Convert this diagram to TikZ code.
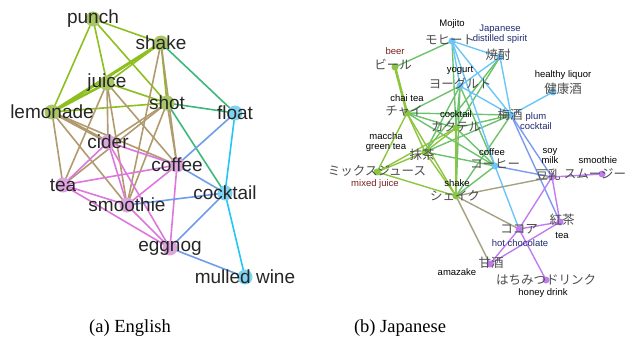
\documentclass[tikz,border=0pt]{standalone}
\usepackage{fontspec}
\setmainfont{Liberation Sans}
\newfontfamily\capfont{Liberation Serif}
\newfontfamily\jafont{Noto Sans CJK JP}
\usetikzlibrary{backgrounds}
\definecolor{egreen}{HTML}{8DBF1E}
\definecolor{eteal}{HTML}{3DB87A}
\definecolor{etan}{HTML}{B09A6E}
\definecolor{epink}{HTML}{DD77DD}
\definecolor{eblue}{HTML}{6F9DEB}
\definecolor{ecyan}{HTML}{22C6F4}
\definecolor{ngreen}{HTML}{A9C566}
\definecolor{npink}{HTML}{DDA5DD}
\definecolor{nblue}{HTML}{7FD3F0}
\definecolor{jgreen}{HTML}{6DC26D}
\definecolor{jlime}{HTML}{8CC63F}
\definecolor{jsky}{HTML}{6CC5F8}
\definecolor{jblue}{HTML}{7C9BF0}
\definecolor{jviolet}{HTML}{C07DF0}
\definecolor{jolive}{HTML}{A5A283}
\definecolor{jred}{HTML}{7A1E1E}
\definecolor{jnavy}{HTML}{1E2A6E}
\tikzset{
  edot/.style={circle, fill=#1, minimum size=15pt, inner sep=0},
  jdot/.style={circle, fill=#1, minimum size=7pt, inner sep=0},
  elabel/.style={font=\fontsize{19}{19}\selectfont, text=black!85, inner sep=0},
  jen/.style={font=\fontsize{9.5}{10}\selectfont, inner sep=0},
  jja/.style={font=\jafont\fontsize{12.5}{13}\selectfont, text=black!70, inner sep=0},
  eedge/.style={line width=1.6pt, draw=#1},
  jedge/.style={line width=1.4pt, draw=#1},
}
\begin{document}
\begin{tikzpicture}[x=1pt,y=-1pt]
  \useasboundingbox (0,0) rectangle (628,345);
  % English graph
  \foreach \n/\x/\y/\c in {punch/93/19/ngreen, shake/161/43/ngreen, juice/107/83/ngreen,
      lemonade/52/112/ngreen, shot/167/103/ngreen, float/235/113/nblue,
      cider/108/142/npink, coffee/177/165/npink, tea/63/185/npink,
      cocktail/225/193/nblue, smoothie/127/205/npink, eggnog/170/248/npink,
      mulledwine/245/277/nblue}
    \node[edot=\c] (\n) at (\x,\y) {};
  \begin{scope}[on background layer]
  \foreach \a/\b in {punch/shake, punch/juice, punch/lemonade, punch/shot,
      shake/juice, shake/shot, juice/shot, lemonade/shot}
    \draw[eedge=egreen] (\a.center) -- (\b.center);
  \draw[eedge=egreen, line width=3pt] (shake.center) -- (lemonade.center);
  \draw[eedge=egreen, line width=2.6pt] (juice.center) -- (lemonade.center);
  \foreach \a/\b in {shake/float, shot/float, shot/cocktail}
    \draw[eedge=eteal] (\a.center) -- (\b.center);
  \foreach \a/\b in {shake/smoothie, shake/coffee, juice/cider, juice/tea,
      juice/smoothie, juice/coffee, lemonade/tea, lemonade/smoothie,
      lemonade/coffee, shot/cider, shot/tea, shot/smoothie, shot/coffee}
    \draw[eedge=etan] (\a.center) -- (\b.center);
  \draw[eedge=etan, line width=3pt] (lemonade.center) -- (cider.center);
  \foreach \a/\b in {cider/tea, cider/smoothie, cider/eggnog, cider/coffee,
      tea/coffee, tea/smoothie, tea/eggnog, coffee/smoothie, coffee/eggnog,
      smoothie/eggnog}
    \draw[eedge=epink] (\a.center) -- (\b.center);
  \foreach \a/\b in {float/coffee, coffee/cocktail, smoothie/cocktail,
      cocktail/eggnog, eggnog/mulledwine}
    \draw[eedge=eblue] (\a.center) -- (\b.center);
  \foreach \a/\b in {float/cocktail, cocktail/mulledwine}
    \draw[eedge=ecyan] (\a.center) -- (\b.center);
  \end{scope}
  \foreach \n/\t in {punch/punch, shake/shake, juice/juice, lemonade/lemonade,
      shot/shot, float/float, cider/cider, coffee/coffee, tea/tea,
      cocktail/cocktail, smoothie/smoothie, eggnog/eggnog, mulledwine/mulled wine}
    \node[elabel] (\n-t) at (\n) {\t};
  % Japanese graph
  \foreach \n/\x/\y/\c in {mojito/452/41/jsky, shochu/500/57/jsky, beer/395/67/jlime,
      yogurt/460/86/jsky, kenko/553/92/jsky, chai/407/113/jlime,
      umeshu/511/115/jsky, jcocktail/456/128/jlime, maccha/425/152/jlime,
      jcoffee/495/166/jsky, mixjuice/377/172/jlime, jshake/456/196/jlime,
      tonyu/552/177/jviolet, jsmoothie/602/174/jviolet, kocha/560/222/jviolet,
      cocoa/519/229/jviolet, amazake/490/264/jviolet, honey/546/280/jviolet}
    \node[jdot=\c] (\n) at (\x,\y) {};
  \begin{scope}[on background layer]
  \foreach \a/\b in {mojito/beer, mojito/jcocktail, shochu/jcocktail, shochu/maccha,
      yogurt/chai, yogurt/jcocktail, yogurt/jshake, yogurt/maccha, chai/umeshu,
      chai/jcocktail, chai/jcoffee, umeshu/jcocktail, umeshu/maccha,
      umeshu/jshake, jcocktail/jcoffee, maccha/jcoffee, jcoffee/jshake,
      yogurt/jcoffee}
    \draw[jedge=jgreen] (\a.center) -- (\b.center);
  \foreach \a/\b in {chai/maccha, chai/mixjuice, chai/jshake, jcocktail/maccha,
      jcocktail/mixjuice, jcocktail/jshake, maccha/mixjuice, maccha/jshake,
      mixjuice/jshake}
    \draw[jedge=jlime] (\a.center) -- (\b.center);
  \draw[jedge=jlime, line width=2.6pt] (beer.center) -- (chai.center);
  \foreach \a/\b in {mojito/shochu, mojito/umeshu, mojito/jcoffee, shochu/yogurt,
      shochu/umeshu, yogurt/umeshu, umeshu/kenko, jcoffee/cocoa, mojito/yogurt}
    \draw[jedge=jsky] (\a.center) -- (\b.center);
  \foreach \a/\b in {umeshu/tonyu, umeshu/kocha, jcoffee/tonyu}
    \draw[jedge=jblue] (\a.center) -- (\b.center);
  \foreach \a/\b in {tonyu/jsmoothie, tonyu/cocoa, tonyu/kocha, kocha/cocoa,
      kocha/amazake, cocoa/amazake, cocoa/honey}
    \draw[jedge=jviolet] (\a.center) -- (\b.center);
  \foreach \a/\b in {jshake/tonyu, jshake/cocoa, jshake/amazake}
    \draw[jedge=jolive] (\a.center) -- (\b.center);
  \end{scope}
  % Japanese labels
  \node[jen] (mojito-e) at (452,24) {Mojito};
  \node[jja] (mojito-j) at (450,40) {モヒート};
  \node[jen, text=jnavy, align=center] (shochu-e) at (500,34) {Japanese\\distilled spirit};
  \node[jja] (shochu-j) at (498,55) {焼酎};
  \node[jen, text=jred] (beer-e) at (395,51) {beer};
  \node[jja] (beer-j) at (393,65) {ビール};
  \node[jen] (yogurt-e) at (460,70) {yogurt};
  \node[jja] (yogurt-j) at (460,84) {ヨーグルト};
  \node[jen] (kenko-e) at (563,75) {healthy liquor};
  \node[jja] (kenko-j) at (563,89) {健康酒};
  \node[jen] (chai-e) at (407,98) {chai tea};
  \node[jja] (chai-j) at (404,111) {チャイ};
  \node[jja] (umeshu-j) at (510,115) {梅酒};
  \node[jen, text=jnavy, align=center] (umeshu-e) at (536,121) {plum\\cocktail};
  \node[jen] (jcocktail-e) at (456,114) {cocktail};
  \node[jja] (jcocktail-j) at (456,127) {カクテル};
  \node[jen, align=center] (maccha-e) at (386,142) {maccha\\green tea};
  \node[jja] (maccha-j) at (422,155) {抹茶};
  \node[jen] (jcoffee-e) at (492,152) {coffee};
  \node[jja] (jcoffee-j) at (495,164) {コーヒー};
  \node[jja] (mixjuice-j) at (377,171) {ミックスジュース};
  \node[jen, text=jred] (mixjuice-e) at (375,184) {mixed juice};
  \node[jen] (jshake-e) at (457,183) {shake};
  \node[jja] (jshake-j) at (455,196) {シェイク};
  \node[jen, align=center] (tonyu-e) at (550,156) {soy\\milk};
  \node[jja] (tonyu-j) at (548,175) {豆乳};
  \node[jen] (jsmoothie-e) at (598,160) {smoothie};
  \node[jja] (jsmoothie-j) at (595,174) {スムージー};
  \node[jja] (kocha-j) at (562,220) {紅茶};
  \node[jen] (kocha-e) at (562,235) {tea};
  \node[jja] (cocoa-j) at (519,229) {ココア};
  \node[jen, text=jnavy] (cocoa-e) at (520,243) {hot chocolate};
  \node[jja] (amazake-j) at (491,263) {甘酒};
  \node[jen] (amazake-e) at (457,272) {amazake};
  \node[jja] (honey-j) at (546,280) {はちみつドリンク};
  \node[jen] (honey-e) at (543,293) {honey drink};
  % captions
  \node[font=\capfont\fontsize{18.5}{19}\selectfont] (capa) at (130,328) {(a) English};
  \node[font=\capfont\fontsize{18.5}{19}\selectfont] (capb) at (400,328) {(b) Japanese};
\end{tikzpicture}
\end{document}
